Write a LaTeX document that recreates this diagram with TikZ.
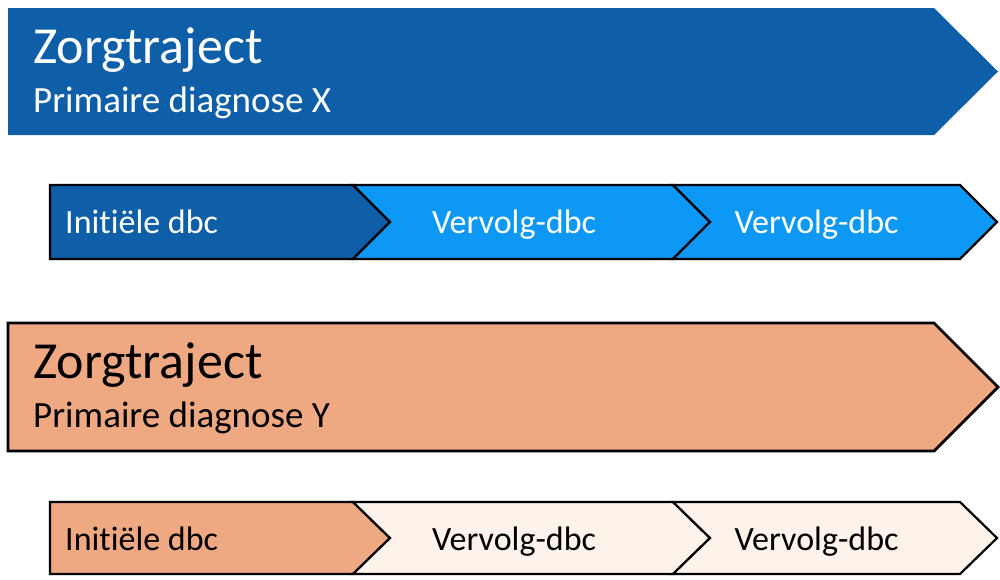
\documentclass[tikz,border=0pt]{standalone}
\usepackage{fontspec}
\setmainfont{Carlito}[Ligatures=NoCommon]
\definecolor{dblue}{HTML}{0E5EA8}
\definecolor{lblue}{HTML}{0E98F6}
\definecolor{salmon}{HTML}{EEA982}
\definecolor{cream}{HTML}{FDF3EA}
\begin{document}
\begin{tikzpicture}[x=1pt,y=-1pt,
  bigtitle/.style={inner sep=0pt,anchor=base west,font=\fontsize{52}{60}\selectfont},
  subtitle/.style={inner sep=0pt,anchor=base west,font=\fontsize{37}{44}\selectfont},
  chevtext/.style={inner sep=0pt,anchor=base west,font=\fontsize{34}{40}\selectfont},
  steptext/.style={inner sep=0pt,anchor=base,font=\fontsize{34}{40}\selectfont},
  chevline/.style={draw=black,line width=2.2pt,line join=miter},
  bigline/.style={draw=black,line width=2.8pt,line join=miter}]
\useasboundingbox (0,0) rectangle (1000,579);
% top big arrow
\fill[dblue] (8,8) -- (934,8) -- (998,71.5) -- (934,135) -- (8,135) -- cycle;
\node[bigtitle,text=white] (zx) at (33,63) {Zorgtraject};
\node[subtitle,text=white] (px) at (33,112) {Primaire diagnose X};
% top chevrons
\path[fill=dblue,chevline] (50,185) -- (353,185) -- (390,222) -- (353,259) -- (50,259) -- cycle;
\path[fill=lblue,chevline] (353,185) -- (673,185) -- (710,222) -- (673,259) -- (353,259) -- (390,222) -- cycle;
\path[fill=lblue,chevline] (673,185) -- (960,185) -- (997,222) -- (960,259) -- (673,259) -- (710,222) -- cycle;
\node[chevtext,text=white] (ix) at (65,233) {Initiële dbc};
\node[steptext,text=white] (v1x) at (514,233) {Vervolg-dbc};
\node[steptext,text=white] (v2x) at (816.5,233) {Vervolg-dbc};
% bottom big arrow
\path[fill=salmon,bigline] (8,323) -- (934,323) -- (998,387) -- (934,451) -- (8,451) -- cycle;
\node[bigtitle,text=black] (zy) at (33,378) {Zorgtraject};
\node[subtitle,text=black] (py) at (33,427) {Primaire diagnose Y};
% bottom chevrons
\path[fill=salmon,chevline] (50,502) -- (353,502) -- (390,538) -- (353,574) -- (50,574) -- cycle;
\path[fill=cream,chevline] (353,502) -- (673,502) -- (710,538) -- (673,574) -- (353,574) -- (390,538) -- cycle;
\path[fill=cream,chevline] (673,502) -- (960,502) -- (997,538) -- (960,574) -- (673,574) -- (710,538) -- cycle;
\node[chevtext,text=black] (iy) at (65,550) {Initiële dbc};
\node[steptext,text=black] (v1y) at (514,550) {Vervolg-dbc};
\node[steptext,text=black] (v2y) at (816.5,550) {Vervolg-dbc};
\end{tikzpicture}
\end{document}
